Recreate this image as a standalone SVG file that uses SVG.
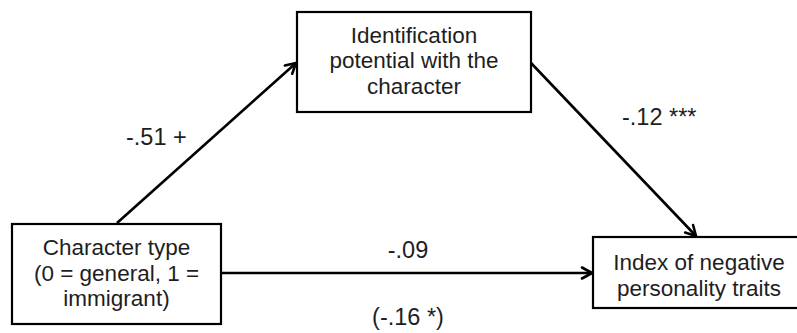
<svg xmlns="http://www.w3.org/2000/svg" width="797" height="333" viewBox="0 0 797 333">
  <defs>
    <style>
      .box { fill: #ffffff; stroke: #000000; stroke-width: 2.2; }
      .edge { fill: none; stroke: #000000; stroke-width: 2.6; }
      .txt { font-family: "Liberation Sans", Arial, sans-serif; font-size: 22.5px; fill: #1e1e1e; }
      .lbl { font-size: 23.5px; }
      .mid { text-anchor: middle; }
    </style>
    <marker id="arrow" viewBox="0 0 14 14" refX="12" refY="7" markerWidth="14" markerHeight="14" markerUnits="userSpaceOnUse" orient="auto">
      <path d="M2,1.5 L12,7 L2,12.5" fill="none" stroke="#000000" stroke-width="2.6" stroke-linecap="round" stroke-linejoin="miter"/>
    </marker>
  </defs>
  <rect width="797" height="333" fill="#ffffff"/>

  <g id="connectors">
    <line class="edge" x1="117" y1="223" x2="296" y2="63" marker-end="url(#arrow)"/>
    <line class="edge" x1="531" y1="63" x2="696" y2="236" marker-end="url(#arrow)"/>
    <line class="edge" x1="221" y1="273" x2="592" y2="273" marker-end="url(#arrow)"/>
    <text class="txt lbl" x="126" y="145">-.51 +</text>
    <text class="txt lbl" x="622" y="125">-.12 ***</text>
    <text class="txt lbl mid" x="408" y="258">-.09</text>
    <text class="txt lbl mid" x="408" y="325">(-.16 *)</text>
  </g>

  <g id="node-identification">
    <rect class="box" x="297" y="12" width="234" height="100"/>
    <text class="txt mid" x="414" y="42.5">Identification</text>
    <text class="txt mid" x="414" y="68">potential with the</text>
    <text class="txt mid" x="414" y="93.5">character</text>
  </g>

  <g id="node-character-type">
    <rect class="box" x="12" y="224" width="209" height="100"/>
    <text class="txt mid" x="116.5" y="255">Character type</text>
    <text class="txt mid" x="116.5" y="280.5">(0 = general, 1 =</text>
    <text class="txt mid" x="116.5" y="306">immigrant)</text>
  </g>

  <g id="node-negative-traits">
    <rect class="box" x="593" y="237" width="212" height="71"/>
    <text class="txt mid" x="699" y="270">Index of negative</text>
    <text class="txt mid" x="699" y="295.5">personality traits</text>
  </g>
</svg>
